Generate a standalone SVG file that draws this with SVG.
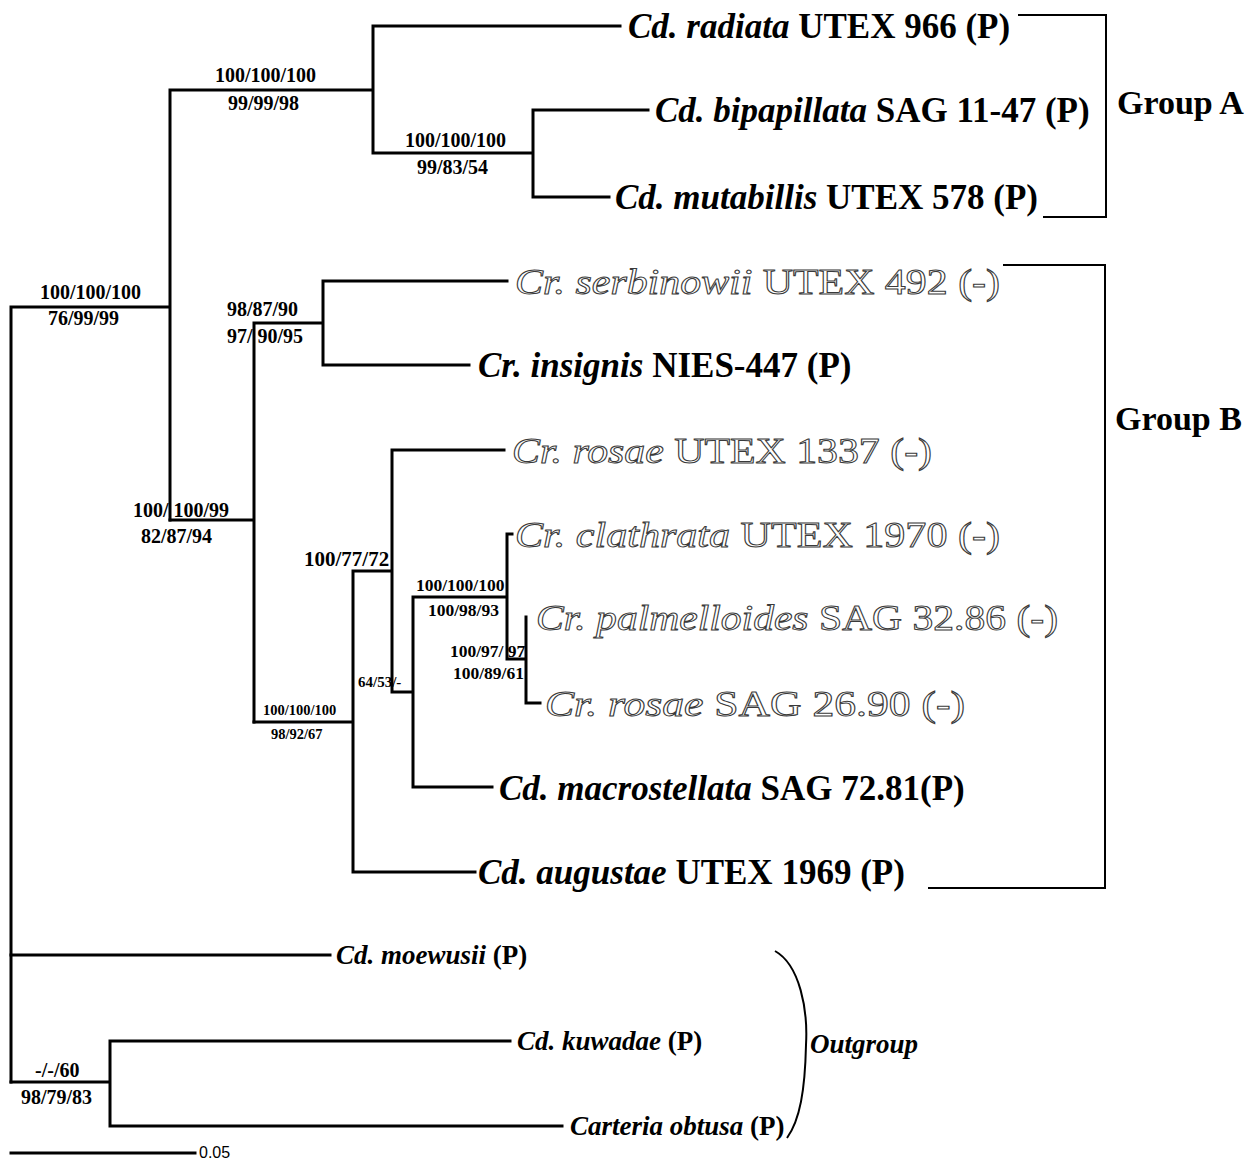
<svg xmlns="http://www.w3.org/2000/svg" width="1253" height="1159" viewBox="0 0 1253 1159">
<style>
.br{fill:none;stroke:#000;stroke-width:3;stroke-linecap:square}
.bk{fill:none;stroke:#000;stroke-width:2}
text{font-family:"Liberation Serif","Times New Roman",serif;font-weight:bold;fill:#000}
.t{font-size:35px}
.m{font-size:27px}
.i{font-style:italic}
.o{font-size:36px;font-weight:normal;fill:#fff;stroke:#3a3a3a;stroke-width:1}
.s20{font-size:20px}
.s21{font-size:21px}
.s18{font-size:17.5px}
.s15{font-size:15px}
.s14{font-size:14.5px}
.g{font-size:34px}
.sc{font-family:"Liberation Sans",Arial,sans-serif;font-weight:normal;font-size:16px}
</style>
<rect width="1253" height="1159" fill="#fff"/>
<g id="connectors">
<path class="br" d="M11,307V1082M11,307H170M170,90V520M170,90H373M373,26V153M373,26H620M373,153H533M533,110V197M533,110H648M533,197H609"/>
<path class="br" d="M170,520H254M254,323V722M254,323H323M323,281V365M323,281H507M323,365H469"/>
<path class="br" d="M254,722H353M353,571V872M353,571H392M392,450V692M392,450H504M392,692H413M413,597V787M413,597H507M507,534V659M507,534H512M507,659H526M526,617V703M526,703H540M413,787H492M353,872H475"/>
<path class="br" d="M11,955H330M11,1082H110M110,1041V1126M110,1041H510M110,1126H562"/>
<path class="bk" d="M1018,15H1106V217H1043"/>
<path class="bk" d="M1003,265H1105V888H928"/>
<path class="bk" d="M775,951C800,965 808,1010 806,1045C805,1090 800,1120 787,1138"/>
</g>
<g id="leaf-radiata"><text class="t" x="628" y="38"><tspan class="i">Cd. radiata</tspan> UTEX 966 (P)</text></g>
<g id="leaf-bipapillata"><text class="t" x="655" y="122"><tspan class="i">Cd. bipapillata</tspan> SAG 11-47 (P)</text></g>
<g id="leaf-mutabillis"><text class="t" x="615" y="209"><tspan class="i">Cd. mutabillis</tspan> UTEX 578 (P)</text></g>
<g id="leaf-serbinowii"><text class="o" x="515" y="294" textLength="485" lengthAdjust="spacingAndGlyphs"><tspan class="i">Cr. serbinowii</tspan> UTEX 492 (-)</text></g>
<g id="leaf-insignis"><text class="t" x="478" y="377"><tspan class="i">Cr. insignis</tspan> NIES-447 (P)</text></g>
<g id="leaf-rosae1337"><text class="o" x="512" y="463" textLength="420" lengthAdjust="spacingAndGlyphs"><tspan class="i">Cr. rosae</tspan> UTEX 1337 (-)</text></g>
<g id="leaf-clathrata"><text class="o" x="515" y="547" textLength="485" lengthAdjust="spacingAndGlyphs"><tspan class="i">Cr. clathrata</tspan> UTEX 1970 (-)</text></g>
<g id="leaf-palmelloides"><text class="o" x="536" y="630" textLength="522" lengthAdjust="spacingAndGlyphs"><tspan class="i">Cr. palmelloides</tspan> SAG 32.86 (-)</text></g>
<g id="leaf-rosae2690"><text class="o" x="545" y="716" textLength="420" lengthAdjust="spacingAndGlyphs"><tspan class="i">Cr. rosae</tspan> SAG 26.90 (-)</text></g>
<g id="leaf-macrostellata"><text class="t" x="499" y="800"><tspan class="i">Cd. macrostellata</tspan> SAG 72.81(P)</text></g>
<g id="leaf-augustae"><text class="t" x="478" y="884"><tspan class="i">Cd. augustae</tspan> UTEX 1969 (P)</text></g>
<g id="leaf-moewusii"><text class="m" x="336" y="964"><tspan class="i">Cd. moewusii</tspan> (P)</text></g>
<g id="leaf-kuwadae"><text class="m" x="517" y="1050"><tspan class="i">Cd. kuwadae</tspan> (P)</text></g>
<g id="leaf-carteria"><text class="m" x="570" y="1135"><tspan class="i">Carteria obtusa</tspan> (P)</text></g>
<g id="group-a"><text class="g" x="1117" y="114">Group A</text></g>
<g id="group-b"><text class="g" x="1115" y="430">Group B</text></g>
<g id="outgroup"><text class="m i" x="810" y="1053">Outgroup</text></g>
<g id="node-root"><text class="s20" x="40" y="299">100/100/100</text><text class="s20" x="48" y="325">76/99/99</text></g>
<g id="node-groupA"><text class="s20" x="215" y="82">100/100/100</text><text class="s20" x="228" y="110">99/99/98</text></g>
<g id="node-groupA-inner"><text class="s20" x="405" y="147">100/100/100</text><text class="s20" x="417" y="174">99/83/54</text></g>
<g id="node-serb-ins"><text class="s20" x="227" y="316">98/87/90</text><text class="s20" x="227" y="343">97/ 90/95</text></g>
<g id="node-groupB"><text class="s20" x="133" y="517">100/ 100/99</text><text class="s20" x="141" y="543">82/87/94</text></g>
<g id="node-rosae-clade"><text class="s21" x="304" y="566">100/77/72</text></g>
<g id="node-clathrata-clade"><text class="s18" x="416" y="591">100/100/100</text><text class="s18" x="428" y="616">100/98/93</text></g>
<g id="node-palm-rosae"><text class="s18" x="450" y="657">100/97/ 97</text><text class="s18" x="453" y="679">100/89/61</text></g>
<g id="node-macro"><text class="s15" x="358" y="687">64/53/-</text></g>
<g id="node-augustae"><text class="s14" x="263" y="715">100/100/100</text><text class="s14" x="271" y="739">98/92/67</text></g>
<g id="node-outgroup"><text class="s20" x="35" y="1077">-/-/60</text><text class="s20" x="21" y="1104">98/79/83</text></g>
<g id="scale-bar"><path class="br" d="M11,1153H195"/><text class="sc" x="199" y="1158">0.05</text></g>
</svg>
